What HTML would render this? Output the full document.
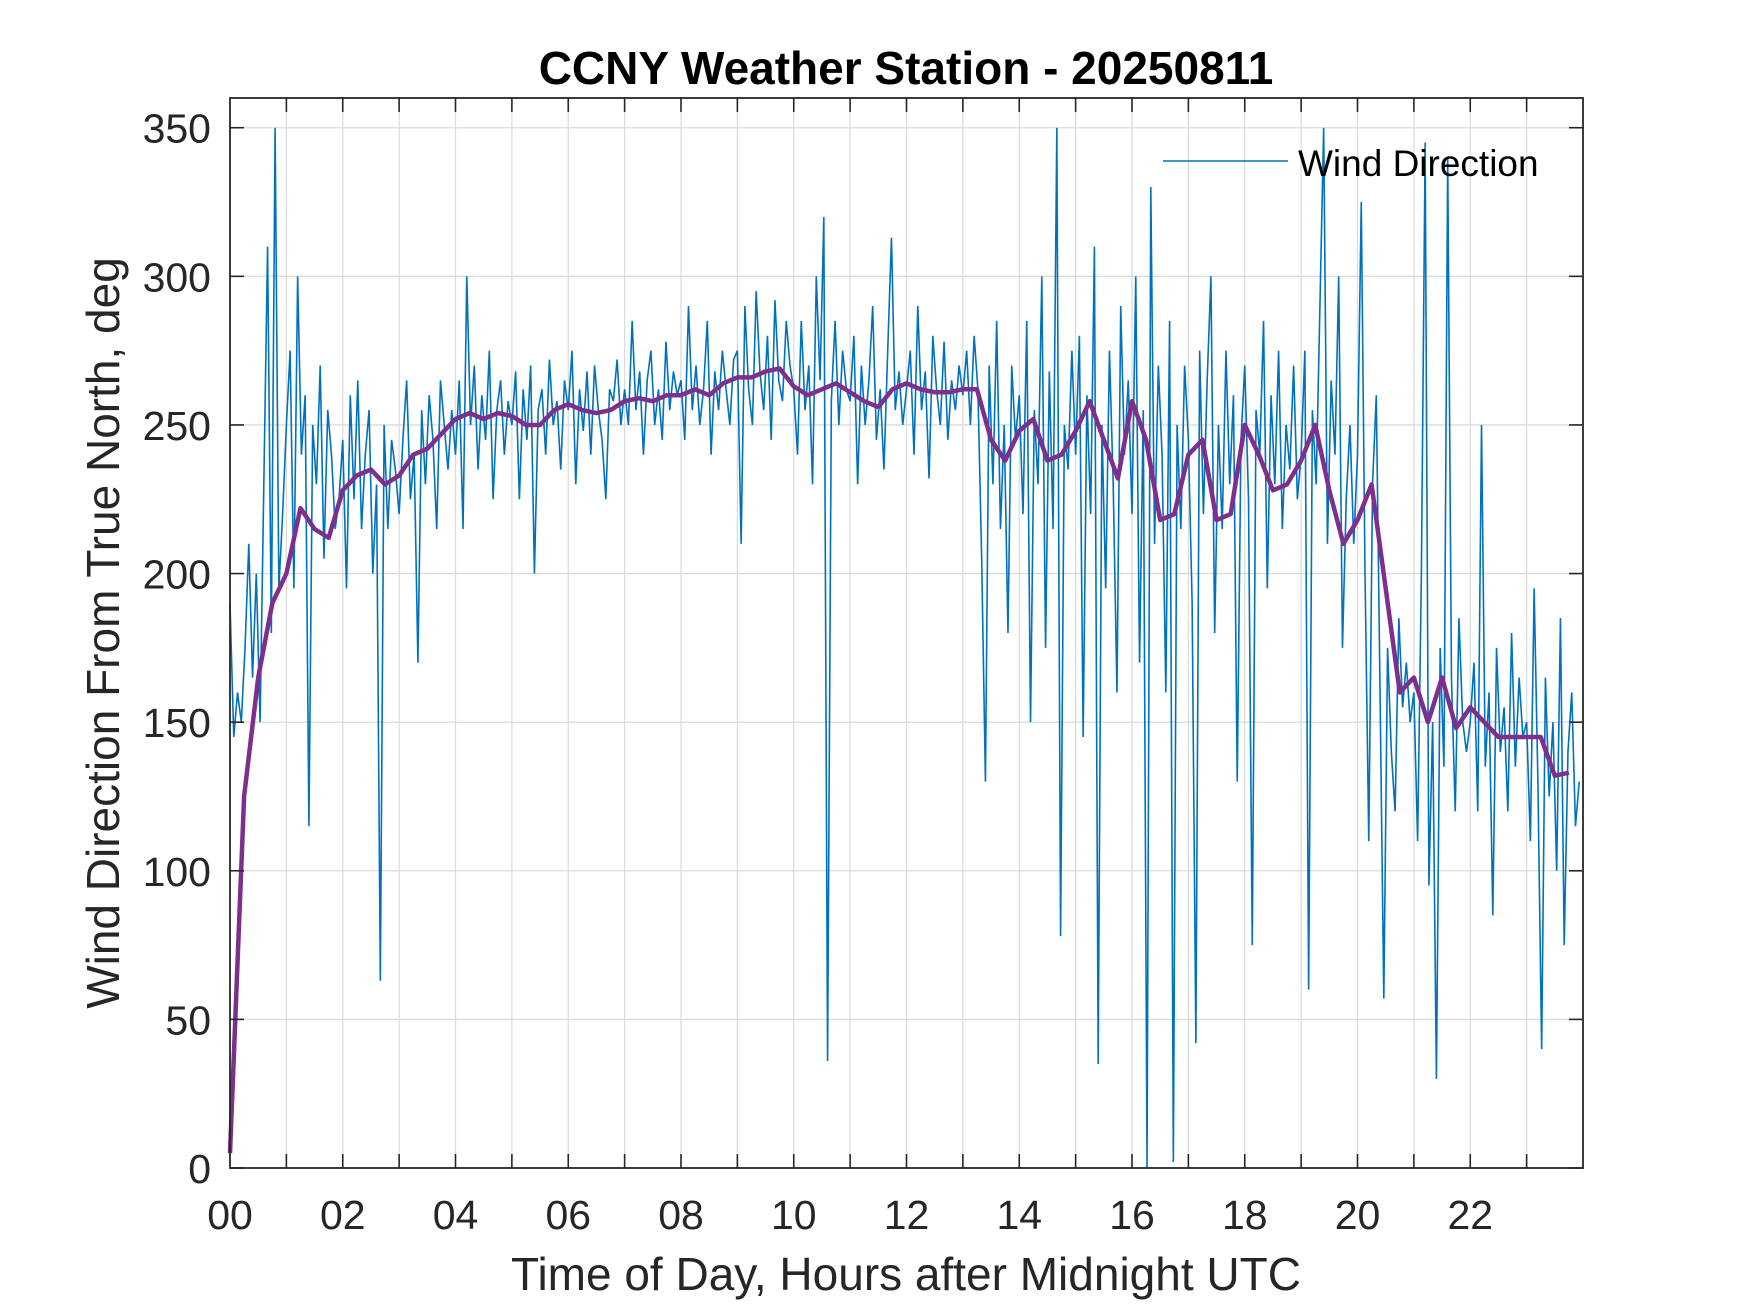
<!DOCTYPE html>
<html><head><meta charset="utf-8"><style>
html,body{margin:0;padding:0;background:#fff;}
svg{display:block;font-family:"Liberation Sans",Arial,sans-serif;}
</style></head><body>
<svg id="chart" width="1750" height="1313" viewBox="0 0 1750 1313" xmlns="http://www.w3.org/2000/svg">
<rect width="1750" height="1313" fill="#fff"/>
<g id="grid"></g>
<g id="series"></g>
<g id="axes"></g>
<text x="906" y="84" text-anchor="middle" font-size="46" font-weight="bold" fill="#000">CCNY Weather Station - 20250811</text>
<text x="906" y="1290" text-anchor="middle" font-size="46" fill="#262626">Time of Day, Hours after Midnight UTC</text>
<text transform="translate(119,633) rotate(-90)" text-anchor="middle" font-size="46" fill="#262626">Wind Direction From True North, deg</text>
<g>
<line x1="1163" y1="161" x2="1288" y2="161" stroke="#0072BD" stroke-width="1.6"/>
<text x="1298" y="176" font-size="37" fill="#000">Wind Direction</text>
</g>
</svg>
<script>
const xTicks = ["00","02","04","06","08","10","12","14","16","18","20","22"];
const yTicks = [0,50,100,150,200,250,300,350];
const windStepMinutes = 4;
const windDirection = [
190,145,160,150,175,210,165,200,150,230,310,180,350,195,220,
250,275,195,300,240,260,115,250,230,270,205,255,240,215,225,
245,195,260,225,265,215,240,255,200,230,63,250,215,245,235,
220,245,265,225,240,170,255,230,260,245,215,265,250,235,255,
240,265,215,300,250,270,235,260,245,275,225,255,265,240,258,
250,268,225,262,245,270,200,255,262,240,272,250,258,235,265,
255,275,230,262,248,268,240,270,255,245,225,262,258,272,250,
262,250,285,255,268,240,265,275,250,262,245,278,255,268,260,
265,245,290,255,270,250,262,285,240,268,255,275,262,250,272,
275,210,290,262,250,295,268,255,280,245,292,265,258,285,270,
262,240,285,255,270,230,300,265,320,36,258,285,250,275,262,
258,280,230,270,250,265,290,245,262,235,275,313,255,268,250,
262,275,240,290,255,268,232,280,262,250,278,245,265,255,270,
260,275,250,280,262,205,130,270,230,285,215,250,180,270,245,
260,220,285,150,255,230,300,175,268,215,350,78,250,235,275,
240,280,145,260,220,310,35,250,195,275,230,160,290,240,265,
220,300,170,255,0,330,210,270,240,160,285,2,250,215,270,
245,190,42,275,220,265,300,180,250,215,275,230,260,130,245,
270,225,75,255,240,285,195,260,230,275,215,250,235,270,225,
240,275,60,255,230,290,350,210,265,240,300,175,225,250,210,
240,325,200,110,230,260,160,57,175,140,120,185,155,170,150,
160,110,200,345,95,150,30,175,135,340,165,120,185,150,140,
150,170,120,250,135,160,85,175,140,155,120,180,135,165,145,
150,110,195,130,40,165,125,150,100,185,75,140,160,115,130
];
const smoothStepHours = 0.25;
const smoothDirection = [
5,125,165,190, 200,222,215,212, 228,233,235,230, 233,240,242,247,
252,254,252,254, 253,250,250,255, 257,255,254,255, 258,259,258,260,
260,262,260,264, 266,266,268,269, 263,260,262,264, 261,258,256,262,
264,262,261,261, 262,262,245,238, 248,252,238,240, 248,258,245,232,
258,245,218,220, 240,245,218,220, 250,240,228,230, 238,250,228,210,
218,230,195,160, 165,150,165,148, 155,150,145,145, 145,145,132,133
];
const L=230,R=1583,T=98,B=1168,XMAX=24,YMAX=360;
const NS="http://www.w3.org/2000/svg";
const xs=h=>L+(h/XMAX)*(R-L);
const ys=v=>B-(v/YMAX)*(B-T);
function mk(tag,attrs,parent){const e=document.createElementNS(NS,tag);for(const k in attrs)e.setAttribute(k,attrs[k]);parent.appendChild(e);return e;}
const grid=document.getElementById('grid'),axes=document.getElementById('axes'),series=document.getElementById('series');
for(let h=1;h<XMAX;h++){
  const g=mk('line',{x1:xs(h),x2:xs(h),y1:T,y2:B,stroke:'#dcdcdc','stroke-width':1.3},grid);
  
  
  const t1=mk('line',{x1:xs(h),x2:xs(h),y1:B,y2:B-14,stroke:'#262626','stroke-width':1.6},axes);
  
  
  const t2=mk('line',{x1:xs(h),x2:xs(h),y1:T,y2:T+14,stroke:'#262626','stroke-width':1.6},axes);
  
  
}
xTicks.forEach((lab,i)=>{
  const t=mk('text',{x:xs(i*2),y:1229,'text-anchor':'middle','font-size':41,fill:'#262626'},axes);
  t.textContent=lab;
  
  
});
yTicks.forEach(v=>{
  if(v>0){const g=mk('line',{x1:L,x2:R,y1:ys(v),y2:ys(v),stroke:'#dcdcdc','stroke-width':1.3},grid);
  
  }
  const t1=mk('line',{x1:L,x2:L+14,y1:ys(v),y2:ys(v),stroke:'#262626','stroke-width':1.6},axes);
  
  
  const t2=mk('line',{x1:R,x2:R-14,y1:ys(v),y2:ys(v),stroke:'#262626','stroke-width':1.6},axes);
  
  
  const t=mk('text',{x:211,y:ys(v)+15,'text-anchor':'end','font-size':41,fill:'#262626'},axes);
  t.textContent=String(v);
  
  
});
const box=mk('rect',{x:L,y:T,width:R-L,height:B-T,fill:'none',stroke:'#262626','stroke-width':1.8},axes);


let d='';
windDirection.forEach((v,i)=>{d+=(i?'L':'M')+xs(i*windStepMinutes/60).toFixed(2)+' '+ys(v).toFixed(2);});
const blue=mk('path',{d:d,fill:'none',stroke:'#0072BD','stroke-width':1.6,'stroke-linejoin':'miter'},series);


let d2='';
smoothDirection.forEach((v,i)=>{d2+=(i?'L':'M')+xs(Math.min(i*smoothStepHours,XMAX-0.02)).toFixed(2)+' '+ys(v).toFixed(2);});
const purple=mk('path',{d:d2,fill:'none',stroke:'#7E2F8E','stroke-width':4.5,'stroke-linejoin':'round'},series);


</script>
</body></html>
